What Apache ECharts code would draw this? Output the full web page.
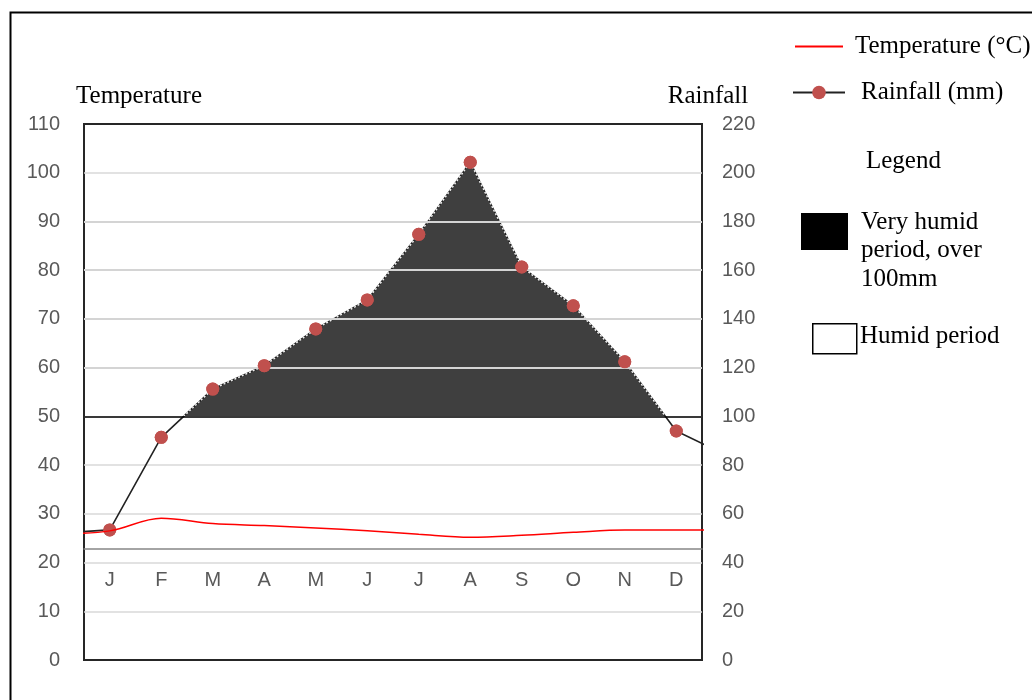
<!DOCTYPE html>
<html>
<head>
<meta charset="utf-8">
<script src="https://cdn.jsdelivr.net/npm/echarts@6/dist/echarts.min.js"></script>
<style>
html,body{margin:0;padding:0;background:#fff;}
#chart{width:1032px;height:700px;}
</style>
</head>
<body>
<div id="chart"></div>
<script>
// ---- data ----
const months = ['J','F','M','A','M','J','J','A','S','O','N','D'];
const temperature = [26.5, 29.1, 28.0, 27.6, 27.1, 26.5, 25.8, 25.2, 25.6, 26.2, 26.7, 26.7];
const rainfall = [53.4, 91.4, 111.2, 120.8, 135.9, 147.8, 174.7, 204.3, 161.3, 145.4, 122.4, 94.0];
// values of neighbouring months (previous Dec / next Jan) that the lines run toward at the plot edges
const tempEdge = [25.9, 26.7];
const rainEdge = [52.0, 83.8];
const tempTicks = [0, 10, 20, 30, 40, 50, 60, 70, 80, 90, 100, 110];
const rainTicks = [0, 20, 40, 60, 80, 100, 120, 140, 160, 180, 200, 220];
const humidThreshold = 100;
const innerGridRain = [120, 140, 160, 180];

function withEdges(vals, edge) {
  const out = [[0, edge[0]]];
  vals.forEach((v, i) => out.push([i + 1, v]));
  out.push([vals.length + 1, edge[1]]);
  return out;
}
const tempData = withEdges(temperature, tempEdge);
const rainData = withEdges(rainfall, rainEdge);
const rainMax = rainTicks[rainTicks.length - 1];

const serif = '"Liberation Serif", "Times New Roman", serif';
const sans = '"Liberation Sans", Arial, sans-serif';
const labelColor = '#595959';
const serifSize = 25;
const tickSize = 20;

const chart = echarts.init(document.getElementById('chart'));
const option = {
  animation: false,
  backgroundColor: '#fff',
  grid: {
    left: 84, right: 330, top: 124, bottom: 40,
    show: true, borderColor: '#262626', borderWidth: 2, backgroundColor: 'transparent'
  },
  xAxis: [
    {
      type: 'category', data: months, position: 'bottom', offset: -111,
      axisLine: { lineStyle: { color: '#868686', width: 1.5 } },
      axisTick: { alignWithLabel: true, length: 5, lineStyle: { color: '#868686', width: 1.5 } },
      axisLabel: { color: labelColor, fontFamily: sans, fontSize: tickSize, margin: 21 },
      splitLine: { show: false }
    },
    {
      type: 'category', data: months, position: 'bottom', offset: -111,
      axisLine: { show: false },
      axisTick: { alignWithLabel: true, inside: true, length: 6, lineStyle: { color: '#868686', width: 1.5 } },
      axisLabel: { show: false },
      splitLine: { show: false }
    },
    {
      type: 'value', min: 0.5, max: months.length + 0.5, show: false
    }
  ],
  yAxis: [
    {
      type: 'value', min: tempTicks[0], max: tempTicks[tempTicks.length - 1], interval: tempTicks[1] - tempTicks[0],
      position: 'left',
      name: 'Temperature', nameLocation: 'end', nameGap: 28,
      nameTextStyle: { fontFamily: serif, fontSize: serifSize, color: '#000', align: 'center', verticalAlign: 'middle', padding: [0, 0, 0, 110] },
      axisLine: { show: false }, axisTick: { show: false },
      axisLabel: { color: labelColor, fontFamily: sans, fontSize: tickSize, margin: 24 },
      splitLine: { show: true, showMinLine: false, showMaxLine: false, lineStyle: { color: '#d9d9d9', width: 1.5 } }
    },
    {
      type: 'value', min: rainTicks[0], max: rainMax, interval: rainTicks[1] - rainTicks[0],
      position: 'right',
      name: 'Rainfall', nameLocation: 'end', nameGap: 28,
      nameTextStyle: { fontFamily: serif, fontSize: serifSize, color: '#000', align: 'center', verticalAlign: 'middle', padding: [0, 0, 0, 12] },
      axisLine: { show: false }, axisTick: { show: false },
      axisLabel: { color: labelColor, fontFamily: sans, fontSize: tickSize, margin: 20 },
      splitLine: { show: false }
    }
  ],
  visualMap: [
    {
      show: false, type: 'piecewise', seriesIndex: 0, dimension: 1,
      pieces: [{ gte: 0, lt: humidThreshold, color: 'rgba(0,0,0,0)' }, { gte: humidThreshold, lte: rainMax, color: '#3f3f3f' }],
      outOfRange: { color: 'rgba(0,0,0,0)' }
    },
    {
      show: false, type: 'piecewise', seriesIndex: 2, dimension: 1,
      pieces: [{ gte: 0, lt: humidThreshold, color: 'rgba(0,0,0,0)' }, { gte: humidThreshold, lte: rainMax, color: '#f0f0f0' }],
      outOfRange: { color: 'rgba(0,0,0,0)' }
    }
  ],
  legend: [
    {
      data: [{ name: 'Temperature (°C)', icon: 'rect' }], left: 790, top: 29, orient: 'vertical',
      itemWidth: 48, itemHeight: 2, selectedMode: false,
      textStyle: { fontFamily: serif, fontSize: serifSize, color: '#000', padding: [0, 0, 0, 7] }
    },
    {
      data: ['Rainfall (mm)'], left: 787, top: 75, orient: 'vertical',
      itemWidth: 52, itemHeight: 17, selectedMode: false,
      textStyle: { fontFamily: serif, fontSize: serifSize, color: '#000', padding: [0, 0, 0, 11] }
    }
  ],
  series: [
    {
      name: 'humid-fill', type: 'line', xAxisIndex: 2, yAxisIndex: 1, data: rainData,
      symbol: 'none', lineStyle: { width: 0 },
      areaStyle: { origin: humidThreshold, opacity: 1 },
      z: 1,
      markLine: {
        silent: true, symbol: 'none', label: { show: false },
        lineStyle: { color: '#d4d4d4', width: 2, type: 'solid' },
        data: innerGridRain.map(v => ({ yAxis: v }))
      }
    },
    {
      name: 'Rainfall (mm)', type: 'line', xAxisIndex: 2, yAxisIndex: 1, data: rainData,
      symbol: 'circle', symbolSize: 13, showSymbol: true,
      itemStyle: { color: '#c0504d' },
      lineStyle: { color: '#222', width: 1.6 },
      z: 3,
      markLine: {
        silent: true, symbol: 'none', label: { show: false },
        lineStyle: { color: '#000', width: 1.5, type: 'solid' },
        data: [{ yAxis: humidThreshold }]
      }
    },
    {
      name: 'rain-dots-overlay', type: 'line', xAxisIndex: 2, yAxisIndex: 1, data: rainData,
      symbol: 'none', lineStyle: { width: 1.5, type: [2, 2] },
      z: 4
    },
    {
      name: 'rain-markers', type: 'line', xAxisIndex: 2, yAxisIndex: 1, data: rainData,
      symbol: 'circle', symbolSize: 13, itemStyle: { color: '#c0504d' },
      lineStyle: { opacity: 0, width: 0 },
      z: 5
    },
    {
      name: 'Temperature (°C)', type: 'line', xAxisIndex: 2, yAxisIndex: 0, data: tempData,
      symbol: 'none', smooth: 0.35,
      lineStyle: { color: '#ff0000', width: 1.5 },
      itemStyle: { color: '#ff0000' },
      z: 6
    }
  ],
  graphic: [
    { type: 'rect', left: 8, top: 10, silent: true, shape: { width: 1100, height: 800 },
      style: { fill: 'none', stroke: '#000', lineWidth: 2 } },
    { type: 'text', left: 866, top: 149, style: { text: 'Legend', font: serifSize + 'px ' + serif, fill: '#000' } },
    { type: 'rect', left: 801, top: 213, shape: { width: 47, height: 37 }, style: { fill: '#000' } },
    { type: 'text', left: 861, top: 208, style: { text: 'Very humid\nperiod, over\n100mm', font: serifSize + 'px ' + serif, lineHeight: 28.5, fill: '#000' } },
    { type: 'rect', left: 812, top: 323, shape: { width: 44, height: 30 }, style: { fill: '#fff', stroke: '#000', lineWidth: 1.5 } },
    { type: 'text', left: 860, top: 324, style: { text: 'Humid period', font: serifSize + 'px ' + serif, fill: '#000' } }
  ]
};
chart.setOption(option);
</script>
</body>
</html>
